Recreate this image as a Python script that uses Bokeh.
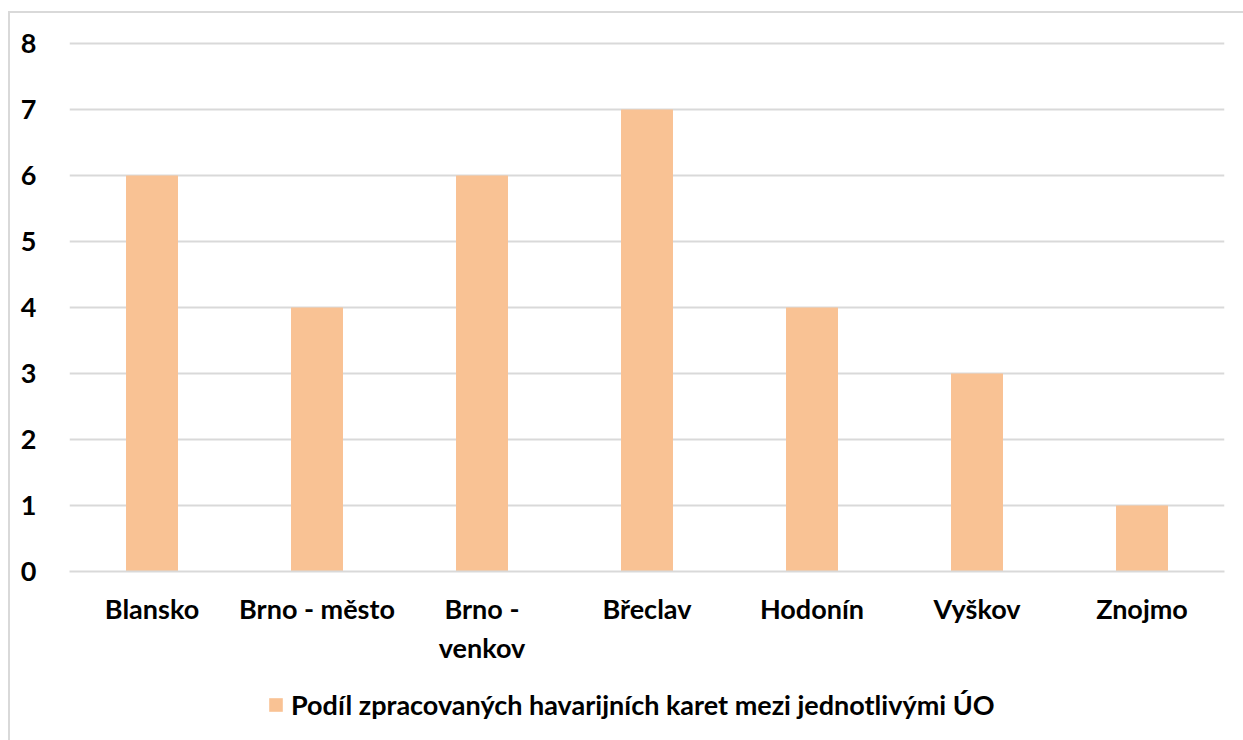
from bokeh.plotting import figure
from bokeh.layouts import column
from bokeh.models import Range1d, FixedTicker, Legend, LegendItem, ColumnDataSource
from bokeh.embed import file_html
from bokeh.resources import INLINE

categories = ["Blansko", "Brno - město", "Brno -\nvenkov", "Břeclav", "Hodonín", "Vyškov", "Znojmo"]
values = [6, 4, 6, 7, 4, 3, 1]
series_name = "Podíl zpracovaných havarijních karet mezi jednotlivými ÚO"
y_ticks = [0, 1, 2, 3, 4, 5, 6, 7, 8]

FONT = "Lato"
BAR = "#F9C294"
GRID = "#D9D9D9"
FS = "27px"

p = figure(x_range=categories, y_range=Range1d(0, 8.03), width=1233, height=667,
           output_backend="svg", toolbar_location=None,
           min_border_left=59, min_border_right=19, min_border_top=28, min_border_bottom=109)
p.outline_line_color = None

src = ColumnDataSource(dict(x=categories, top=values))
r = p.vbar(x="x", top="top", width=0.315, source=src, fill_color=BAR, line_color=None)

p.yaxis.ticker = FixedTicker(ticks=y_ticks)
p.yaxis.axis_line_color = None
p.yaxis.major_tick_line_color = None
p.yaxis.minor_tick_line_color = None
p.yaxis.major_label_text_font = FONT
p.yaxis.major_label_text_font_style = "bold"
p.yaxis.major_label_text_font_size = FS
p.yaxis.major_label_text_color = "#000000"
p.yaxis.major_label_standoff = 27

p.xaxis.axis_line_color = GRID
p.xaxis.axis_line_width = 2
p.xaxis.major_tick_line_color = None
p.xaxis.minor_tick_line_color = None
p.xaxis.major_label_text_font = FONT
p.xaxis.major_label_text_font_style = "bold"
p.xaxis.major_label_text_font_size = FS
p.xaxis.major_label_text_color = "#000000"
p.xaxis.major_label_standoff = 14

p.xgrid.grid_line_color = None
p.ygrid.grid_line_color = GRID
p.ygrid.grid_line_width = 2
p.ygrid.ticker = FixedTicker(ticks=y_ticks)

# legend strip below the chart (zero-height swatch renderer, only used for the legend key)
p2 = figure(width=1233, height=60, output_backend="svg", toolbar_location=None,
            x_range=Range1d(0, 1), y_range=Range1d(0, 1),
            x_axis_type=None, y_axis_type=None, min_border=0)
p2.outline_line_color = None
p2.xgrid.grid_line_color = None
p2.ygrid.grid_line_color = None
r2 = p2.vbar(x=[0], top=[0], width=0.315, fill_color=BAR, line_color=None)
legend = Legend(items=[LegendItem(label=series_name, renderers=[r2])],
                orientation="horizontal", location=(198, 19),
                label_text_font=FONT, label_text_font_style="bold",
                label_text_font_size=FS, label_text_color="#000000",
                glyph_width=17, glyph_height=17, label_standoff=7,
                border_line_color=None, background_fill_alpha=0,
                margin=0, padding=0)
p2.add_layout(legend)

layout = column(p, p2, spacing=0,
                styles={"margin-left": "8px", "margin-top": "11px",
                        "border-left": "2px solid #D9D9D9", "border-top": "2px solid #D9D9D9"})

open("out.html", "w").write(file_html(layout, INLINE))
